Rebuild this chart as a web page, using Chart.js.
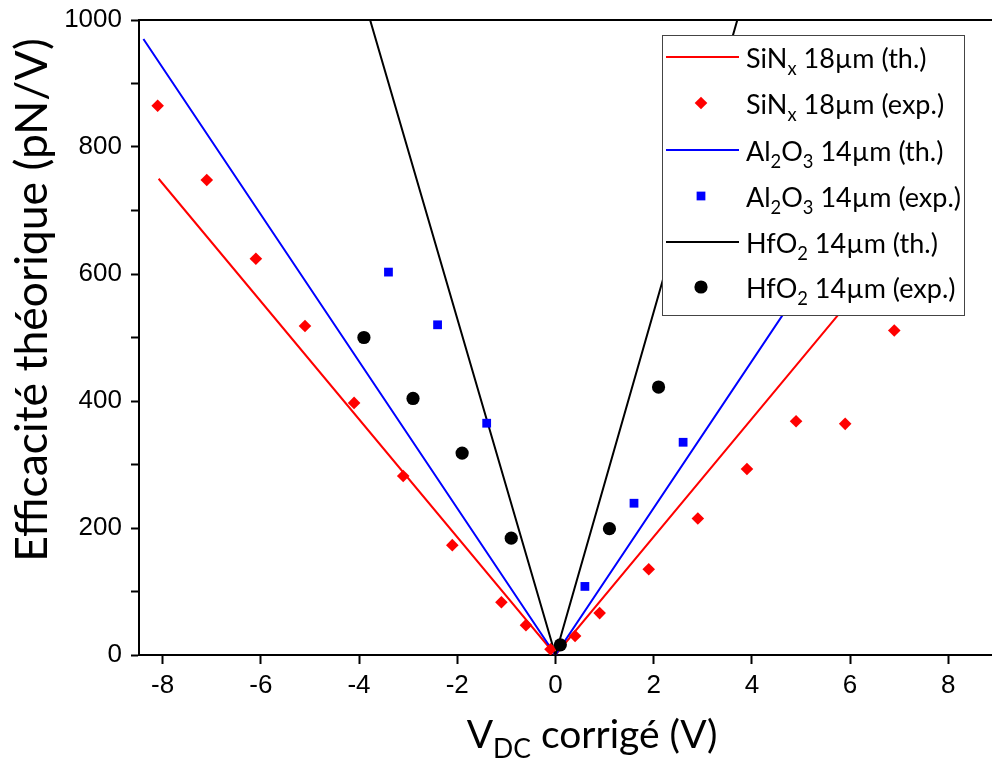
<!DOCTYPE html>
<html>
<head>
<meta charset="utf-8">
<script src="https://cdn.jsdelivr.net/npm/chart.js@4"></script>
<style>
	html, body { margin: 0; padding: 0; background: #ffffff; }
</style>
</head>
<body>
<canvas id="myChart" width="992" height="763"></canvas>
<script>
/*
Efficacité théorique vs V_DC corrigé : SiNx / Al2O3 / HfO2
*/

// theoretical curves (end points of the V lines)
const sinThV = [-8.08, 0, 6.9];
const sinThY = [750, 0, 642];
const alThV = [-8.39, 0, 7.5];
const alThY = [970, 0, 868];
const hfThV = [-4.0, 0, 4.0];
const hfThY = [1060, 0, 1080];

// experimental points
const sinExpV = [-8.1, -7.1, -6.1, -5.1, -4.1, -3.1, -2.1, -1.1, -0.6, -0.1, 0.4, 0.9, 1.9, 2.9, 3.9, 4.9, 5.9, 6.9];
const sinExpY = [865, 748, 624, 518, 397, 282, 173, 83, 47, 9, 30, 66, 135, 215, 293, 368, 364, 511];
const alExpV = [-3.4, -2.4, -1.4, 0.6, 1.6, 2.6];
const alExpY = [603, 520, 365, 108, 239, 335];
const hfExpV = [-3.9, -2.9, -1.9, -0.9, 0.1, 1.1, 2.1];
const hfExpY = [500, 404, 318, 184, 16, 199, 422];

// legend text ( _x = subscript char, _{..} = subscript group )
const legendNames = [
	"SiN_x 18µm (th.)",
	"SiN_x 18µm (exp.)",
	"Al_2O_3 14µm (th.)",
	"Al_2O_3 14µm (exp.)",
	"HfO_2 14µm (th.)",
	"HfO_2 14µm (exp.)"
];
const xTitle = "V_{DC} corrigé (V)";
const yTitle = "Efficacité théorique (pN/V)";

const xTicks = [-8, -6, -4, -2, 0, 2, 4, 6, 8];

const RED = '#ff0000';
const BLUE = '#0000ff';
const BLACK = '#000000';
const TXT_FONT = 'Lato';

function pts(xs, ys) {
	const out = [];
	for (let i = 0; i < xs.length; i++) {
		out.push({ x: xs[i], y: ys[i] });
	}
	return out;
}

// split "Al_2O_3" into [{t, sub}]
function parseSub(str) {
	const parts = [];
	let i = 0;
	let buf = '';
	while (i < str.length) {
		if (str[i] == '_') {
			if (buf) { parts.push({ t: buf, sub: false }); buf = ''; }
			if (str[i + 1] == '{') {
				const end = str.indexOf('}', i);
				parts.push({ t: str.substring(i + 2, end), sub: true });
				i = end + 1;
			} else {
				parts.push({ t: str[i + 1], sub: true });
				i += 2;
			}
		} else {
			buf += str[i];
			i++;
		}
	}
	if (buf) parts.push({ t: buf, sub: false });
	return parts;
}

function measureRich(ctx, str, size) {
	let w = 0;
	for (const p of parseSub(str)) {
		ctx.font = (p.sub ? size * 0.68 : size) + 'px ' + TXT_FONT;
		w += ctx.measureText(p.t).width;
	}
	return w;
}

function drawRich(ctx, str, x, y, size) {
	let cx = x;
	ctx.textAlign = 'left';
	ctx.textBaseline = 'alphabetic';
	for (const p of parseSub(str)) {
		ctx.font = (p.sub ? size * 0.68 : size) + 'px ' + TXT_FONT;
		ctx.fillText(p.t, cx, p.sub ? y + size * 0.25 : y);
		cx += ctx.measureText(p.t).width;
	}
}

function drawMarker(ctx, style, x, y, r, color) {
	ctx.save();
	ctx.fillStyle = color;
	ctx.beginPath();
	if (style == 'rectRot') {
		ctx.moveTo(x, y - r);
		ctx.lineTo(x + r, y);
		ctx.lineTo(x, y + r);
		ctx.lineTo(x - r, y);
		ctx.closePath();
	} else if (style == 'rect') {
		const s = r * Math.SQRT1_2;
		ctx.rect(x - s, y - s, 2 * s, 2 * s);
	} else {
		ctx.arc(x, y, r, 0, Math.PI * 2);
	}
	ctx.fill();
	ctx.restore();
}

const R_DIAMOND = 6.3;
const R_SQUARE = 6.2;
const R_CIRCLE = 6.6;

const legendItems = [
	{ kind: 'line', color: RED },
	{ kind: 'rectRot', color: RED, r: R_DIAMOND },
	{ kind: 'line', color: BLUE },
	{ kind: 'rect', color: BLUE, r: R_SQUARE },
	{ kind: 'line', color: BLACK },
	{ kind: 'circle', color: BLACK, r: R_CIRCLE }
];

const decorPlugin = {
	id: 'decor',
	afterDraw: (chart) => {
		const { ctx, chartArea } = chart;
		ctx.save();

		// top frame line
		ctx.strokeStyle = BLACK;
		ctx.lineWidth = 2;
		ctx.beginPath();
		ctx.moveTo(chartArea.left - 1, chartArea.top);
		ctx.lineTo(chartArea.right, chartArea.top);
		ctx.stroke();

		// legend box
		const bx = 662.5, by = 35.5, bw = 302, bh = 280;
		ctx.fillStyle = '#ffffff';
		ctx.fillRect(bx, by, bw, bh);
		ctx.strokeStyle = '#444444';
		ctx.lineWidth = 1;
		ctx.strokeRect(bx, by, bw, bh);

		const rowY = [57, 103, 150, 196, 242, 287];
		for (let i = 0; i < legendItems.length; i++) {
			const it = legendItems[i];
			const cy = rowY[i];
			if (it.kind == 'line') {
				ctx.strokeStyle = it.color;
				ctx.lineWidth = 2;
				ctx.beginPath();
				ctx.moveTo(666, cy);
				ctx.lineTo(739, cy);
				ctx.stroke();
			} else {
				drawMarker(ctx, it.kind, 701, cy, it.r, it.color);
			}
			ctx.fillStyle = '#000000';
			drawRich(ctx, legendNames[i], 746, cy + 11, 27);
		}

		// axis titles
		ctx.fillStyle = '#000000';
		const xs = 39;
		const xw = measureRich(ctx, xTitle, xs);
		drawRich(ctx, xTitle, 592 - xw / 2, 748, xs);

		const ys = 44.5;
		ctx.save();
		ctx.translate(47, 300);
		ctx.rotate(-Math.PI / 2);
		const yw = measureRich(ctx, yTitle, ys);
		drawRich(ctx, yTitle, -yw / 2, 0, ys);
		ctx.restore();

		ctx.restore();
	}
};

function generate_chart() {
	const ctx = document.getElementById('myChart').getContext('2d');

	// lower index is drawn on top
	const datasets = [
		{
			label: 'HfO2 exp', data: pts(hfExpV, hfExpY),
			pointStyle: 'circle', pointRadius: R_CIRCLE, pointBorderWidth: 0,
			backgroundColor: BLACK, borderColor: BLACK, showLine: false
		},
		{
			label: 'Al2O3 exp', data: pts(alExpV, alExpY),
			pointStyle: 'rect', pointRadius: R_SQUARE, pointBorderWidth: 0,
			backgroundColor: BLUE, borderColor: BLUE, showLine: false
		},
		{
			label: 'SiNx exp', data: pts(sinExpV, sinExpY),
			pointStyle: 'rectRot', pointRadius: R_DIAMOND, pointBorderWidth: 0,
			backgroundColor: RED, borderColor: RED, showLine: false
		},
		{
			label: 'HfO2 th', data: pts(hfThV, hfThY),
			showLine: true, pointRadius: 0, borderWidth: 2,
			borderColor: BLACK, backgroundColor: BLACK, fill: false, tension: 0
		},
		{
			label: 'Al2O3 th', data: pts(alThV, alThY),
			showLine: true, pointRadius: 0, borderWidth: 2,
			borderColor: BLUE, backgroundColor: BLUE, fill: false, tension: 0
		},
		{
			label: 'SiNx th', data: pts(sinThV, sinThY),
			showLine: true, pointRadius: 0, borderWidth: 2,
			borderColor: RED, backgroundColor: RED, fill: false, tension: 0
		}
	];

	const config = {
		type: 'scatter',
		data: { datasets: datasets },
		options: {
			responsive: false,
			animation: false,
			events: [],
			layout: { autoPadding: false, padding: { top: 20, right: 0, left: 0, bottom: 0 } },
			scales: {
				x: {
					type: 'linear',
					min: -8.48,
					max: 8.89,
					afterBuildTicks: (scale) => {
						scale.ticks = xTicks.map(v => ({ value: v }));
					},
					afterFit: (scale) => {
						scale.height = 108;
						scale.paddingLeft = 0;
						scale.paddingRight = 0;
					},
					ticks: {
						font: { family: 'Liberation Sans', size: 26 },
						color: '#000000',
						padding: 6,
						maxRotation: 0,
						autoSkip: false
					},
					grid: {
						drawOnChartArea: false,
						drawTicks: true,
						tickLength: 9,
						tickWidth: 2,
						tickColor: '#000000'
					},
					border: { color: '#000000', width: 2 }
				},
				y: {
					type: 'linear',
					min: 0,
					max: 1000,
					afterFit: (scale) => {
						scale.width = 139;
						scale.paddingTop = 0;
						scale.paddingBottom = 0;
					},
					ticks: {
						stepSize: 100,
						autoSkip: false,
						font: { family: 'Liberation Sans', size: 26 },
						color: '#000000',
						padding: 9,
						callback: (v) => (v % 200 == 0 ? String(v) : '')
					},
					grid: {
						drawOnChartArea: false,
						drawTicks: true,
						tickLength: 8,
						tickWidth: 2,
						tickColor: '#000000'
					},
					border: { color: '#000000', width: 2 }
				}
			},
			plugins: {
				legend: { display: false },
				tooltip: { enabled: false },
				title: { display: false }
			}
		},
		plugins: [decorPlugin]
	};

	const myChart = new Chart(ctx, config);
}

generate_chart();
</script>
</body>
</html>
